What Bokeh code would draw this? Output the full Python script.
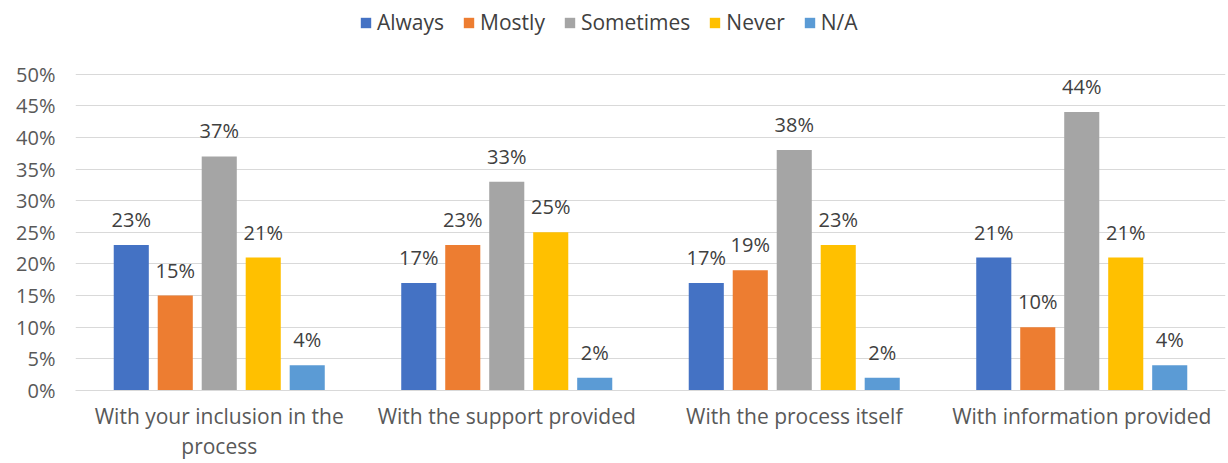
from bokeh.plotting import figure
from bokeh.models import ColumnDataSource, FactorRange, Legend, LegendItem, NumeralTickFormatter, FixedTicker, LabelSet
from bokeh.core.properties import value
from bokeh.transform import dodge
from bokeh.embed import file_html
from bokeh.resources import INLINE

categories = ["With your inclusion in the\nprocess", "With the support provided",
              "With the process itself", "With information provided"]
series = ["Always", "Mostly", "Sometimes", "Never", "N/A"]
always = [0.23, 0.17, 0.17, 0.21]
mostly = [0.15, 0.23, 0.19, 0.10]
sometimes = [0.37, 0.33, 0.38, 0.44]
never = [0.21, 0.25, 0.23, 0.21]
na = [0.04, 0.02, 0.02, 0.04]
colors = ["#4472C4", "#ED7D31", "#A5A5A5", "#FFC000", "#5B9BD5"]
values = [always, mostly, sometimes, never, na]
y_ticks = [0.0, 0.05, 0.10, 0.15, 0.20, 0.25, 0.30, 0.35, 0.40, 0.45, 0.50]

FONT = "Open Sans"
FS = "20px"

FRAME_BOTTOM = 392  # expected frame bottom in px
p = figure(width=1228, height=463, x_range=FactorRange(*categories, range_padding=0),
           y_range=(0, 0.5 * FRAME_BOTTOM / (FRAME_BOTTOM - 74)), output_backend="svg",
           toolbar_location=None,
           min_border_left=75, min_border_right=3, min_border_top=0, min_border_bottom=71)
p.outline_line_color = None

step = 0.153
width = 0.122
items = []
for i, (name, vals, col) in enumerate(zip(series, values, colors)):
    src = ColumnDataSource(dict(cat=categories, v=vals, lbl=[f"{round(v*100)}%" for v in vals]))
    off = (i - 2) * step
    r = p.vbar(x=dodge("cat", off, range=p.x_range), top="v", width=width, source=src,
               color=col, line_color=None)
    items.append(LegendItem(label=name, renderers=[r]))
    lab = LabelSet(x=dodge("cat", off, range=p.x_range), y="v", text="lbl", source=src,
                   text_align="center", text_baseline="bottom", y_offset=12,
                   text_font=value(FONT), text_font_size=FS, text_color="#404040")
    p.add_layout(lab)

legend = Legend(items=items, orientation="horizontal", location=(284, FRAME_BOTTOM - 38),
                label_text_font=FONT, label_text_font_size="21px", label_text_color="#404040",
                glyph_width=13, glyph_height=13, spacing=18, label_standoff=5,
                border_line_color=None, background_fill_alpha=0, margin=0, padding=4)
p.add_layout(legend, "center")

p.yaxis.ticker = FixedTicker(ticks=y_ticks)
p.yaxis.formatter = NumeralTickFormatter(format="0%")
p.yaxis.axis_line_color = None
p.yaxis.major_tick_line_color = None
p.yaxis.minor_tick_line_color = None
p.yaxis.major_label_text_font = FONT
p.yaxis.major_label_text_font_size = FS
p.yaxis.major_label_text_color = "#595959"
p.yaxis.major_label_standoff = 14

p.xaxis.axis_line_color = "#D9D9D9"
p.xaxis.major_tick_line_color = None
p.xaxis.minor_tick_line_color = None
p.xaxis.major_label_text_font = FONT
p.xaxis.major_label_text_font_size = "21px"
p.xaxis.major_label_text_line_height = 1.1
p.xaxis.major_label_text_color = "#595959"
p.xaxis.major_label_standoff = 5

p.xgrid.grid_line_color = None
p.ygrid.grid_line_color = "#D9D9D9"

open("out.html", "w").write(file_html(p, INLINE))
